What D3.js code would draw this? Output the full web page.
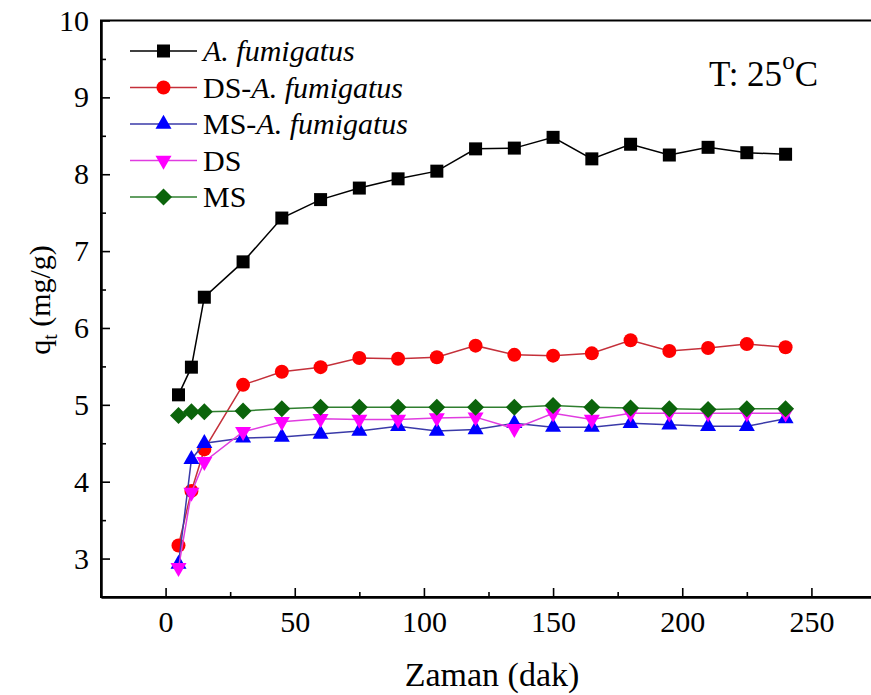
<!DOCTYPE html>
<html>
<head>
<meta charset="utf-8">
<script src="https://cdn.jsdelivr.net/npm/d3@7"></script>
<style>
  body { margin: 0; background: #fff; }
  text { font-family: "Liberation Serif", "Times New Roman", serif; fill: #000; }
</style>
</head>
<body>
<svg id="chart" width="871" height="695"></svg>
<script>
// Sorption time (min) and uptake q_t (mg/g) for each sorbent
const times = [5, 10, 15, 30, 45, 60, 75, 90, 105, 120, 135, 150, 165, 180, 195, 210, 225, 240];
const aFumigatus   = [5.13, 5.49, 6.40, 6.86, 7.43, 7.67, 7.82, 7.94, 8.04, 8.33, 8.34, 8.48, 8.20, 8.39, 8.25, 8.35, 8.28, 8.26];
const dsAFumigatus = [3.17, 3.88, 4.42, 5.26, 5.43, 5.49, 5.61, 5.60, 5.62, 5.77, 5.65, 5.64, 5.67, 5.84, 5.70, 5.74, 5.79, 5.75];
const msAFumigatus = [2.93, 4.29, 4.50, 4.57, 4.58, 4.62, 4.66, 4.72, 4.66, 4.68, 4.76, 4.71, 4.71, 4.76, 4.74, 4.72, 4.72, 4.82];
const dsValues     = [2.88, 3.86, 4.26, 4.65, 4.78, 4.82, 4.81, 4.81, 4.83, 4.84, 4.69, 4.89, 4.81, 4.89, 4.89, 4.89, 4.89, 4.89];
const msValues     = [4.86, 4.91, 4.91, 4.92, 4.95, 4.97, 4.97, 4.97, 4.97, 4.97, 4.97, 4.99, 4.97, 4.96, 4.95, 4.94, 4.95, 4.95];

const xTicks = [0, 50, 100, 150, 200, 250];
const xMinorTicks = [25, 75, 125, 175, 225];
const yTicks = [3, 4, 5, 6, 7, 8, 9, 10];
const yMinorTicks = [3.5, 4.5, 5.5, 6.5, 7.5, 8.5, 9.5];

// Legend labels: [plain prefix, italic part]
const seriesLabels = [["", "A. fumigatus"], ["DS-", "A. fumigatus"], ["MS-", "A. fumigatus"], ["DS", ""], ["MS", ""]];

const svg = d3.select("#chart");
const margin = { left: 101, top: 20.5 };
const x = d3.scaleLinear().domain([-25, 275]).range([margin.left, margin.left + 775]);
const y = d3.scaleLinear().domain([2.5, 10]).range([597, margin.top]);

// marker shapes
const shapes = {
  square: "M-6.5,-6.5H6.5V6.5H-6.5Z",
  circle: d3.symbol().type(d3.symbolCircle).size(Math.PI * 49)(),
  up: "M0,-9.3L8,4.7L-8,4.7Z",
  down: "M0,9.3L8,-4.7L-8,-4.7Z",
  diamond: "M0,-8.5L8.5,0L0,8.5L-8.5,0Z"
};

const series = [
  { values: aFumigatus,   line: "#000000", fill: "#000000", shape: "square" },
  { values: dsAFumigatus, line: "#c4303a", fill: "#ff0000", shape: "circle" },
  { values: msAFumigatus, line: "#3a3aa8", fill: "#0000ff", shape: "up" },
  { values: dsValues,     line: "#e03ce0", fill: "#ff00ff", shape: "down" },
  { values: msValues,     line: "#2f7f2f", fill: "#0b640b", shape: "diamond" }
];

// frame (top and left borders; right side runs past the page)
svg.append("rect")
  .attr("x", x(-25)).attr("y", y(10))
  .attr("width", x(275) - x(-25)).attr("height", y(2.5) - y(10))
  .attr("fill", "none").attr("stroke", "#000").attr("stroke-width", 2);

// axes with inward ticks
const xAxis = svg.append("g").attr("transform", `translate(0,${y(2.5)})`)
  .call(d3.axisBottom(x).tickValues(xTicks).tickSizeInner(-9).tickSizeOuter(0).tickPadding(14).tickFormat(d3.format("d")));
xAxis.selectAll(".tick text").attr("font-size", 30);
svg.append("g").attr("transform", `translate(0,${y(2.5)})`)
  .call(d3.axisBottom(x).tickValues(xMinorTicks).tickSizeInner(-5).tickSizeOuter(0).tickFormat(""));

const yAxis = svg.append("g").attr("transform", `translate(${x(-25)},0)`)
  .call(d3.axisLeft(y).tickValues(yTicks).tickSizeInner(-9).tickSizeOuter(0).tickPadding(12).tickFormat(d3.format("d")));
yAxis.selectAll(".tick text").attr("font-size", 30);
svg.append("g").attr("transform", `translate(${x(-25)},0)`)
  .call(d3.axisLeft(y).tickValues(yMinorTicks).tickSizeInner(-5).tickSizeOuter(0).tickFormat(""));

svg.selectAll(".domain").attr("stroke-width", 2);
svg.selectAll(".tick line").attr("stroke-width", 1.6);

// series lines and markers
const line = d3.line().x((d, i) => x(times[i])).y(d => y(d));
series.forEach(s => {
  svg.append("path").datum(s.values)
    .attr("d", line).attr("fill", "none")
    .attr("stroke", s.line).attr("stroke-width", 1.5);
  svg.append("g").selectAll("path").data(s.values).join("path")
    .attr("d", shapes[s.shape])
    .attr("transform", (d, i) => `translate(${x(times[i])},${y(d)})`)
    .attr("fill", s.fill);
});

// legend
const legendX0 = 130, legendX1 = 197, legendY0 = 51, legendStep = 36.5;
series.forEach((s, i) => {
  const ly = legendY0 + i * legendStep;
  svg.append("line").attr("x1", legendX0).attr("x2", legendX1).attr("y1", ly).attr("y2", ly)
    .attr("stroke", s.line).attr("stroke-width", 1.5);
  svg.append("path").attr("d", shapes[s.shape]).attr("transform", `translate(${(legendX0 + legendX1) / 2},${ly})`)
    .attr("fill", s.fill);
  const t = svg.append("text").attr("x", 203).attr("y", ly + 10).attr("font-size", 30);
  const [plain, ital] = seriesLabels[i];
  if (plain) t.append("tspan").text(plain);
  if (ital) t.append("tspan").attr("font-style", "italic").text(ital);
});

// temperature note
const tl = svg.append("text").attr("x", 709).attr("y", 86).attr("font-size", 35);
tl.append("tspan").text("T: 25");
tl.append("tspan").attr("font-size", 25).attr("dy", -17).text("o");
tl.append("tspan").attr("dy", 17).text("C");

// axis titles
svg.append("text").attr("x", 492).attr("y", 686).attr("font-size", 34)
  .attr("text-anchor", "middle").text("Zaman (dak)");
const yl = svg.append("text").attr("transform", "translate(50,300) rotate(-90)")
  .attr("font-size", 30).attr("text-anchor", "middle");
yl.append("tspan").text("q");
yl.append("tspan").attr("font-size", 20).attr("dy", 7).text("t");
yl.append("tspan").attr("dy", -7).text(" (mg/g)");
</script>
</body>
</html>
